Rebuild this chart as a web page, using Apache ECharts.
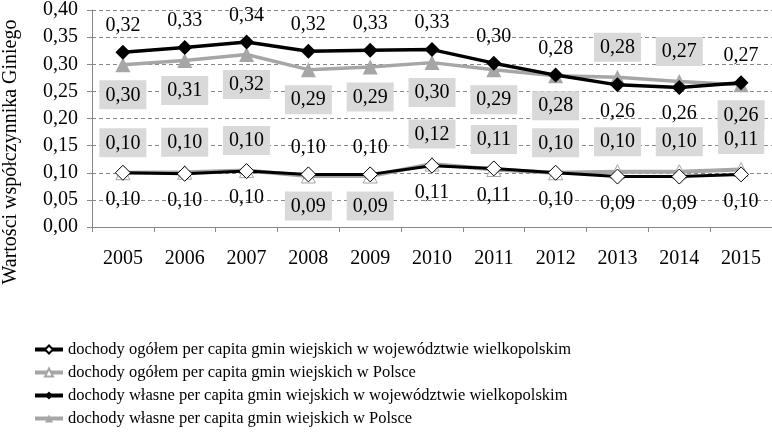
<!DOCTYPE html>
<html>
<head>
<meta charset="utf-8">
<script src="https://cdn.jsdelivr.net/npm/echarts@6/dist/echarts.min.js"></script>
<style>
  html, body { margin: 0; padding: 0; background: #fff; }
  #chart { width: 772px; height: 441px; }
</style>
</head>
<body>
<div id="chart"></div>
<script>
// data
var years = ['2005', '2006', '2007', '2008', '2009', '2010', '2011', '2012', '2013', '2014', '2015'];
var yTicks = [0, 0.05, 0.10, 0.15, 0.20, 0.25, 0.30, 0.35, 0.40];

var names = [
    'dochody ogółem per capita gmin wiejskich w województwie wielkopolskim',
    'dochody ogółem per capita gmin wiejskich w Polsce',
    'dochody własne per capita gmin wiejskich w województwie wielkopolskim',
    'dochody własne per capita gmin wiejskich w Polsce'
];

var ogolemWlkp = [0.100, 0.098, 0.103, 0.097, 0.097, 0.113, 0.108, 0.100, 0.093, 0.093, 0.097];
var ogolemPl = [0.100, 0.101, 0.104, 0.094, 0.094, 0.116, 0.106, 0.100, 0.102, 0.102, 0.106];
var wlasneWlkp = [0.322, 0.331, 0.341, 0.324, 0.326, 0.327, 0.302, 0.280, 0.262, 0.257, 0.266];
var wlasnePl = [0.299, 0.307, 0.318, 0.290, 0.295, 0.303, 0.290, 0.279, 0.276, 0.268, 0.262];

// where each point's label sits ('t' above, 'b' below)
var posOgolemWlkp = 'bbbttbbbbbb';
var posOgolemPl = 'tttbbtttttt';
var posWlasneWlkp = 'ttttttttbbt';
var posWlasnePl = 'bbbbbbbbttb';

var FONT = '"Liberation Serif", "Times New Roman", serif';
var GRAY = '#a6a6a6';

function fmt(p) {
    return p.value.toFixed(2).replace('.', ',');
}

function build_data(values, pos, boxed) {
    var out = [];
    for (var i = 0; i < values.length; i++) {
        out.push({
            value: values[i],
            label: {
                position: pos[i] == 't' ? 'top' : 'bottom',
                distance: boxed ? 8 : 9
            }
        });
    }
    return out;
}

function label_style(boxed) {
    var l = {
        show: true,
        formatter: fmt,
        fontFamily: FONT,
        fontSize: 20,
        lineHeight: 20,
        color: '#000'
    };
    if (boxed) {
        l.backgroundColor = '#d9d9d9';
        l.padding = [5, 6, 4, 6];
    }
    return l;
}

var chart = echarts.init(document.getElementById('chart'));

option = {
    animation: false,
    backgroundColor: '#fff',
    grid: {
        left: 92,
        top: 7,
        width: 686,
        height: 220
    },
    legend: {
        orient: 'vertical',
        left: 28,
        top: 336,
        height: 105,
        itemWidth: 28,
        itemHeight: 10,
        itemGap: 6,
        lineStyle: { width: 4 },
        textStyle: {
            fontFamily: FONT,
            fontSize: 16.5,
            lineHeight: 17,
            color: '#000'
        },
        data: names
    },
    graphic: [{
        type: 'text',
        x: 1,
        y: 152,
        rotation: Math.PI / 2,
        style: {
            text: 'Wartości współczynnika Giniego',
            font: '20px ' + FONT,
            fill: '#000',
            textAlign: 'center',
            textVerticalAlign: 'top'
        }
    }],
    xAxis: {
        type: 'category',
        data: years,
        boundaryGap: true,
        axisLine: { lineStyle: { color: '#888', width: 1 } },
        axisTick: { show: true, length: 5, lineStyle: { color: '#888' } },
        axisLabel: {
            margin: 22,
            fontFamily: FONT,
            fontSize: 20,
            color: '#000'
        }
    },
    yAxis: {
        type: 'value',
        min: 0,
        max: 0.4,
        interval: 0.05,
        axisLine: { show: true, lineStyle: { color: '#888', width: 1 } },
        axisTick: { show: true, length: 5, lineStyle: { color: '#888' } },
        splitLine: { lineStyle: { color: '#888', type: [4, 3] } },
        axisLabel: {
            margin: 14,
            fontFamily: FONT,
            fontSize: 20,
            color: '#000',
            formatter: function (v) {
                return v.toFixed(2).replace('.', ',');
            }
        }
    },
    series: [{
        name: names[0],
        type: 'line',
        z: 4,
        data: build_data(ogolemWlkp, posOgolemWlkp, false),
        symbol: 'diamond',
        symbolSize: 15,
        itemStyle: { color: '#fff', borderColor: '#000', borderWidth: 1 },
        lineStyle: { color: '#000', width: 3 },
        label: label_style(false)
    }, {
        name: names[1],
        type: 'line',
        z: 3,
        data: build_data(ogolemPl, posOgolemPl, true),
        symbol: 'triangle',
        symbolSize: 14,
        itemStyle: { color: '#fff', borderColor: GRAY, borderWidth: 1 },
        lineStyle: { color: GRAY, width: 4 },
        label: label_style(true)
    }, {
        name: names[2],
        type: 'line',
        z: 4,
        data: build_data(wlasneWlkp, posWlasneWlkp, false),
        symbol: 'diamond',
        symbolSize: 15,
        itemStyle: { color: '#000' },
        lineStyle: { color: '#000', width: 3.5 },
        label: label_style(false)
    }, {
        name: names[3],
        type: 'line',
        z: 3,
        data: build_data(wlasnePl, posWlasnePl, true),
        symbol: 'triangle',
        symbolSize: 15,
        itemStyle: { color: GRAY },
        lineStyle: { color: GRAY, width: 3.5 },
        label: label_style(true)
    }]
};

chart.setOption(option);
</script>
</body>
</html>
